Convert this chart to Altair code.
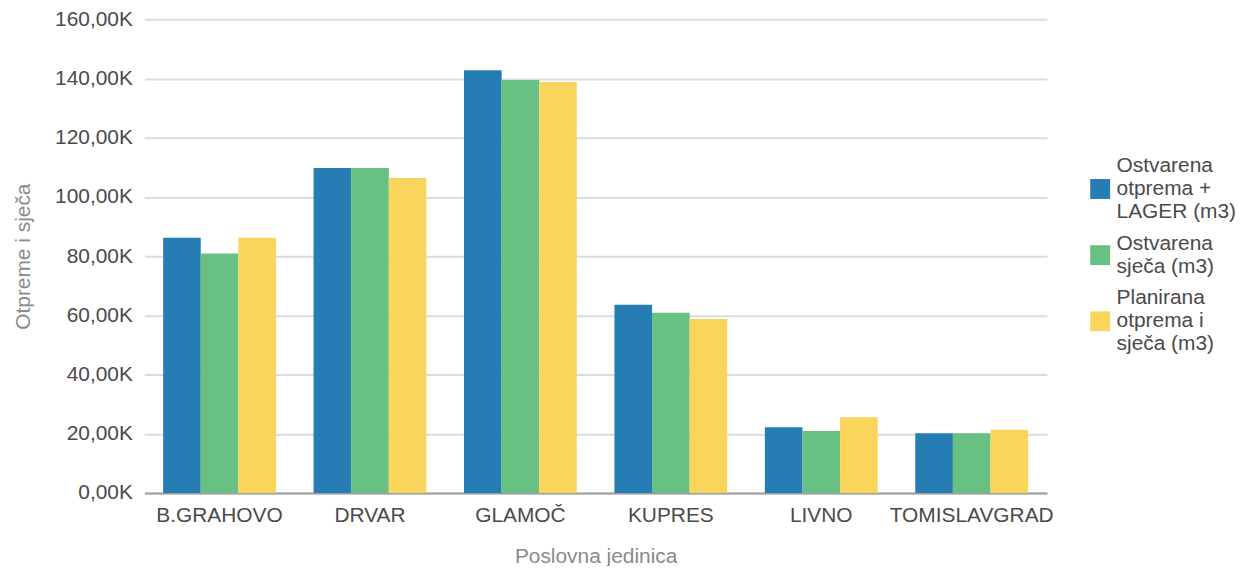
import altair as alt
import pandas as pd

categories = ["B.GRAHOVO", "DRVAR", "GLAMOČ", "KUPRES", "LIVNO", "TOMISLAVGRAD"]
series = ["Ostvarena otprema + LAGER (m3)", "Ostvarena sječa (m3)", "Planirana otprema i sječa (m3)"]
series_lines = [["Ostvarena", "otprema +", "LAGER (m3)"], ["Ostvarena", "sječa (m3)"], ["Planirana", "otprema i", "sječa (m3)"]]
colors = ["#267db3", "#68c182", "#fad55c"]
otprema_lager = [86200, 109800, 142800, 63600, 22200, 20200]
sjeca = [80900, 109800, 139500, 60900, 20900, 20200]
planirana = [86200, 106400, 138800, 58800, 25600, 21400]

rows = []
for vals, s in zip([otprema_lager, sjeca, planirana], series):
    for c, v in zip(categories, vals):
        rows.append({"Poslovna jedinica": c, "Serija": s, "Vrijednost": v})
df = pd.DataFrame(rows)

label_expr = " : ".join(
    f"datum.label == '{s}' ? {lines!r}" for s, lines in zip(series, series_lines)
) + " : datum.label"

# legend squares, moved down to the middle of each multi-line label
def square(shift):
    return f"M-1,{-1 + shift}H1V{1 + shift}H-1Z"

shapes = [square(2.3 * (len(lines) - 1) / 2) for lines in series_lines]

FONT = "Liberation Sans"

legend = alt.Legend(title=None, orient="none", legendX=950, legendY=137,
                    symbolSize=400, symbolStrokeWidth=0, symbolOpacity=1,
                    labelExpr=label_expr, labelOffset=6, rowPadding=10,
                    labelBaseline="middle",
                    labelFontSize=21, labelColor="#4a4a4a", labelFont=FONT,
                    labelLimit=300)

color = alt.Color("Serija:N", sort=series,
                  scale=alt.Scale(domain=series, range=colors), legend=legend)

x = alt.X("Poslovna jedinica:N", sort=categories,
          scale=alt.Scale(paddingInner=0.25, paddingOuter=0.125),
          axis=alt.Axis(title="Poslovna jedinica", labelAngle=0, ticks=False,
                        labelPadding=12, titlePadding=20,
                        domainColor="#9e9e9e", domainWidth=2, grid=False))
xo = alt.XOffset("Serija:N", sort=series)
y = alt.Y("Vrijednost:Q", scale=alt.Scale(domain=[0, 160000]),
          axis=alt.Axis(title="Otpreme i sječa", values=list(range(0, 160001, 20000)),
                        labelExpr="replace(format(datum.value/1000, '.2f'), '.', ',') + 'K'",
                        ticks=False, domain=False, labelPadding=12, titlePadding=21,
                        gridColor="#d5dde5", gridWidth=2))

bars = alt.Chart(df).mark_bar().encode(x=x, xOffset=xo, y=y, color=color)
keys = alt.Chart(df).mark_point(filled=True, opacity=0).encode(
    x=x, xOffset=xo, y=y, color=color,
    shape=alt.Shape("Serija:N", sort=series,
                    scale=alt.Scale(domain=series, range=shapes), legend=legend),
)

chart = alt.layer(bars, keys).properties(
    width=907, height=476,
    autosize=alt.AutoSizeParams(type="none"),
    padding={"left": 137, "top": 10, "right": 190, "bottom": 72},
).configure_view(stroke=None).configure_axis(
    labelFont=FONT, titleFont=FONT, labelFontSize=21, titleFontSize=21,
    labelColor="#4a4a4a", titleColor="#8a8a8a", titleFontWeight="normal",
)

chart.save("out.html", embed_options={"renderer": "svg", "actions": False})
